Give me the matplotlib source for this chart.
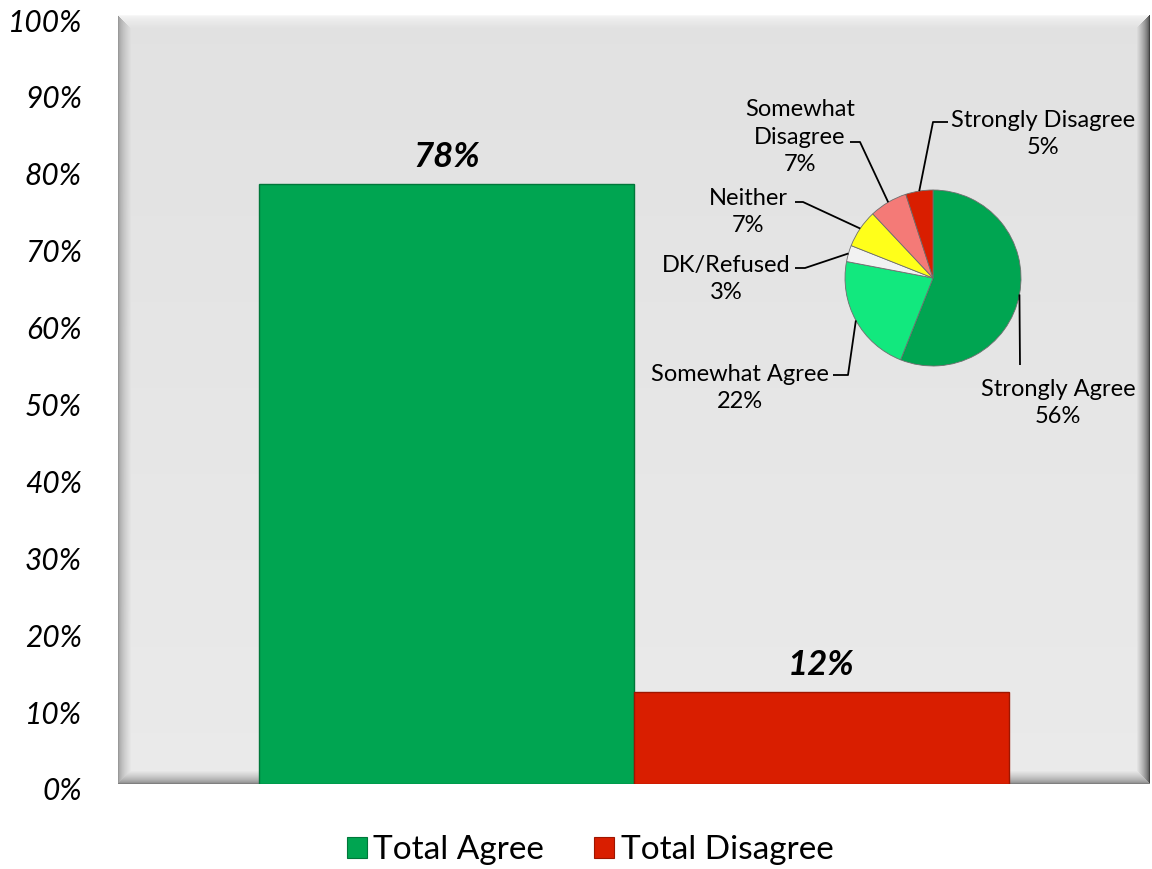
import numpy as np
import matplotlib
matplotlib.use("Agg")
import matplotlib.pyplot as plt
from matplotlib.patches import Patch
from matplotlib.transforms import ScaledTranslation

plt.rcParams['font.family'] = ['Lato', 'DejaVu Sans']

# ---------------- data ----------------
series = ["Total Agree", "Total Disagree"]
series_values = [78, 12]
series_colors = ["#00A551", "#D91E00"]
series_edges = ["#00773A", "#9E1600"]

ytick_values = [0, 10, 20, 30, 40, 50, 60, 70, 80, 90, 100]
ytick_labels = ["0%", "10%", "20%", "30%", "40%", "50%", "60%", "70%", "80%", "90%", "100%"]

pie_labels = ["Strongly Agree", "Somewhat Agree", "DK/Refused", "Neither",
              "Somewhat\nDisagree", "Strongly Disagree"]
pie_values = [56, 22, 3, 7, 7, 5]
pie_colors = ["#00A551", "#12E87E", "#F2F2F2", "#FFFF1A", "#F47A77", "#D91E00"]

W, H = 1152, 869
fig = plt.figure(figsize=(W / 100, H / 100), dpi=100)
fig.patch.set_facecolor("white")

# ---------------- main axes ----------------
L, R, T, B = 118, 1150, 15, 784
ax = fig.add_axes([L / W, 1 - B / H, (R - L) / W, (B - T) / H])
ax.set_xlim(0, 1)
ax.set_ylim(0, 100)

# background with bevel
ph, pw = B - T, R - L
yy = np.arange(ph)[:, None] * np.ones((1, pw))
xx = np.ones((ph, 1)) * np.arange(pw)[None, :]
base = 0.885 + 0.035 * yy / ph
img = base.copy()
bw = 13
dl, dr, dt, db = xx, pw - 1 - xx, yy, ph - 1 - yy
dmin = np.minimum.reduce([dl, dr, dt, db])
for d, edge in [(dl, 0.60), (dt, 0.97), (dr, 0.25), (db, 0.50)]:
    mask = (d == dmin) & (d < bw)
    t = (d[mask] / bw) ** 0.6
    img[mask] = edge * (1 - t) + base[mask] * t
img = np.clip(img, 0, 1)
ax.imshow(np.dstack([img, img, img]), extent=[0, 1, 0, 1], transform=ax.transAxes,
          aspect="auto", zorder=0, interpolation="bilinear")

bar_w = 0.3634
n = len(series)
for i, (name, v) in enumerate(zip(series, series_values)):
    xpos = 0.5 + (i - (n - 1) / 2) * bar_w
    ax.bar(xpos, v, width=bar_w, color=series_colors[i], edgecolor=series_edges[i],
           linewidth=1.0, zorder=2, label=name)
    ax.annotate(f"{v}%", (xpos, v), xytext=(0, 8), textcoords="offset points",
                ha="center", va="bottom", fontsize=25, fontweight="bold",
                fontstyle="italic", color="black", zorder=3)

ax.set_yticks(ytick_values)
ax.set_yticklabels(ytick_labels, fontsize=21.5, fontstyle="italic")
ax.tick_params(axis="y", length=0, pad=26)
for lab in ax.get_yticklabels():
    lab.set_transform(lab.get_transform() + ScaledTranslation(0, -5 / 100, fig.dpi_scale_trans))
ax.set_xticks([])
for s in ax.spines.values():
    s.set_visible(False)

# ---------------- pie inset ----------------
cx, cy, r = 933, 278, 88
pax = fig.add_axes([(cx - r) / W, 1 - (cy + r) / H, 2 * r / W, 2 * r / H])
pax.pie(pie_values, colors=pie_colors, startangle=90, counterclock=False, radius=1,
        wedgeprops=dict(edgecolor="#6E6E6E", linewidth=0.6))
pax.set_xlim(-1, 1)
pax.set_ylim(-1, 1)
pax.set_aspect("equal")
pax.axis("off")

def px2d(x, y):
    return ((x - cx) / r, (cy - y) / r)

# label layout: text center (px), text-side line start (px), knee point (px)
layout = [
    dict(text=(1058, 403), start=(1020, 365), knee=None),          # Strongly Agree
    dict(text=(740, 388), start=(833, 375), knee=(848, 375)),      # Somewhat Agree
    dict(text=(726, 279), start=(795, 268), knee=(805, 268)),      # DK/Refused
    dict(text=(748, 212), start=(795, 202), knee=(803, 202)),      # Neither
    dict(text=(800, 137), start=(850, 142), knee=(860, 142)),      # Somewhat Disagree
    dict(text=(1043, 134), start=(948, 122), knee=(933, 122)),     # Strongly Disagree
]

total = float(sum(pie_values))
cum = 0.0
for lab, v, lay in zip(pie_labels, pie_values, layout):
    mid = (cum + v / 2) / total
    cum += v
    ang = np.deg2rad(90 - 360 * mid)
    ex, ey = np.cos(ang), np.sin(ang)
    pts = [px2d(*lay["start"])]
    if lay["knee"] is not None:
        pts.append(px2d(*lay["knee"]))
    pts.append((ex, ey))
    pts = np.array(pts)
    pax.plot(pts[:, 0], pts[:, 1], color="black", lw=1.3, clip_on=False, zorder=5,
             solid_capstyle="butt")
    tx, ty = px2d(*lay["text"])
    pax.text(tx, ty, f"{lab}\n{v}%", ha="center", va="center", fontsize=17,
             linespacing=1.4, clip_on=False, zorder=6)

# ---------------- legend ----------------
handles = [Patch(facecolor=c, edgecolor=e, linewidth=0.8) for c, e in zip(series_colors, series_edges)]
fig.legend(handles, series, loc="center", bbox_to_anchor=(590 / W, 1 - 850 / H),
           ncol=2, frameon=False, fontsize=24, handlelength=0.6, handleheight=0.6,
           handletextpad=0.2, columnspacing=1.5)

fig.savefig("out.png", dpi=100, facecolor="white")
